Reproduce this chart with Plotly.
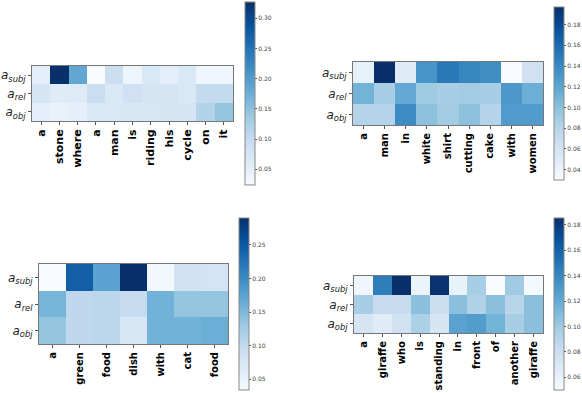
import plotly.graph_objects as go

W, H = 582, 393

ROW_LABELS = ["<i>a</i><sub><i>subj</i></sub>", "<i>a</i><sub><i>rel</i></sub>", "<i>a</i><sub><i>obj</i></sub>"]

#panel 1: "a stone where a man is riding his cycle on it"
words_1 = ["a", "stone", "where", "a", "man", "is", "riding", "his", "cycle", "on", "it"]
subj_1 = [0.054, 0.327, 0.185, 0.024, 0.090, 0.040, 0.070, 0.055, 0.070, 0.035, 0.035]
rel_1 = [0.075, 0.060, 0.063, 0.092, 0.070, 0.085, 0.075, 0.075, 0.070, 0.102, 0.102]
obj_1 = [0.055, 0.045, 0.053, 0.070, 0.070, 0.072, 0.072, 0.075, 0.075, 0.118, 0.145]

#panel 2: "a man in white shirt cutting cake with women"
words_2 = ["a", "man", "in", "white", "shirt", "cutting", "cake", "with", "women"]
subj_2 = [0.043, 0.197, 0.050, 0.132, 0.150, 0.142, 0.137, 0.030, 0.063]
rel_2 = [0.110, 0.088, 0.117, 0.092, 0.088, 0.090, 0.088, 0.130, 0.113]
obj_2 = [0.080, 0.080, 0.138, 0.100, 0.090, 0.100, 0.080, 0.127, 0.127]

#panel 3: "a green food dish with cat food"
words_3 = ["a", "green", "food", "dish", "with", "cat", "food"]
subj_3 = [0.034, 0.244, 0.175, 0.290, 0.042, 0.085, 0.080]
rel_3 = [0.155, 0.103, 0.106, 0.098, 0.157, 0.136, 0.136]
obj_3 = [0.136, 0.103, 0.106, 0.075, 0.157, 0.157, 0.162]

#panel 4: "a giraffe who is standing in front of another giraffe"
words_4 = ["a", "giraffe", "who", "is", "standing", "in", "front", "of", "another", "giraffe"]
subj_4 = [0.055, 0.145, 0.1855, 0.058, 0.184, 0.060, 0.097, 0.050, 0.100, 0.052]
rel_4 = [0.097, 0.084, 0.084, 0.107, 0.080, 0.107, 0.093, 0.107, 0.090, 0.107]
obj_4 = [0.073, 0.066, 0.077, 0.095, 0.073, 0.125, 0.128, 0.115, 0.097, 0.107]

#matplotlib "Blues"
BLUES = [
    [0.0, "#f7fbff"], [0.125, "#deebf7"], [0.25, "#c6dbef"], [0.375, "#9ecae1"],
    [0.5, "#6baed6"], [0.625, "#4292c6"], [0.75, "#2171b5"], [0.875, "#08519c"],
    [1.0, "#08306b"],
]

#pixel boxes: heatmap (x0, x1, y0, y1), colorbar (x0, y0, y1), tick step, word size
PANELS = [
    (words_1, [subj_1, rel_1, obj_1], (32, 233, 66, 121), (245, 2, 185), 0.05, 11),
    (words_2, [subj_2, rel_2, obj_2], (353, 543, 62, 125), (554, 7, 180), 0.02, 10),
    (words_3, [subj_3, rel_3, obj_3], (39, 228, 264, 344), (239, 218, 390), 0.05, 10),
    (words_4, [subj_4, rel_4, obj_4], (354, 543, 276, 333), (554, 218, 390), 0.02, 10),
]

fig = go.Figure()
layout = {}

for i, (words, rows, box, cb, step, wsize) in enumerate(PANELS, start=1):
    x0, x1, y0, y1 = box
    cx, cy0, cy1 = cb
    sfx = "" if i == 1 else str(i)
    fig.add_trace(go.Heatmap(
        z=rows,
        x=list(range(len(words))),
        y=[0, 1, 2],
        colorscale=BLUES,
        xaxis=f"x{sfx}", yaxis=f"y{sfx}",
        colorbar=dict(
            x=cx / W, xanchor="left",
            y=1 - (cy0 + cy1) / 2 / H, yanchor="middle",
            len=(cy1 - cy0) / H, lenmode="fraction",
            thickness=10, thicknessmode="pixels",
            xpad=0, ypad=0,
            outlinewidth=1, outlinecolor="#888888",
            ticks="outside", ticklen=2, tickcolor="#555555",
            dtick=step, tick0=0, tickformat=".2f",
            tickfont=dict(size=6, color="#444444", family="DejaVu Sans"),
        ),
        hoverinfo="skip",
    ))
    layout[f"xaxis{sfx}"] = dict(
        domain=[x0 / W, x1 / W], anchor=f"y{sfx}", automargin=False,
        tickvals=list(range(len(words))), ticktext=words,
        tickangle=-90, ticks="outside", ticklen=3, tickcolor="#555555",
        tickfont=dict(size=wsize, color="black", family="DejaVu Sans", weight="bold"),
        showline=True, mirror=True, linecolor="#777777", linewidth=1,
        showgrid=False, zeroline=False, range=[-0.5, len(words) - 0.5],
    )
    layout[f"yaxis{sfx}"] = dict(
        domain=[1 - y1 / H, 1 - y0 / H], anchor=f"x{sfx}", automargin=False,
        tickvals=[0, 1, 2], ticktext=ROW_LABELS,
        ticks="outside", ticklen=3, tickcolor="#555555",
        tickfont=dict(size=12, color="#222222", family="DejaVu Sans"),
        showline=True, mirror=True, linecolor="#777777", linewidth=1,
        showgrid=False, zeroline=False, range=[2.5, -0.5],
    )

fig.update_layout(
    width=W, height=H,
    margin=dict(l=0, r=0, t=0, b=0),
    paper_bgcolor="white", plot_bgcolor="white",
    font=dict(family="DejaVu Sans"),
    **layout,
)

#drop the page's default body margin so the figure fills the window
fig.write_html(
    "out.html",
    config={"displayModeBar": False},
    post_script="document.body.style.margin = '0';",
)
